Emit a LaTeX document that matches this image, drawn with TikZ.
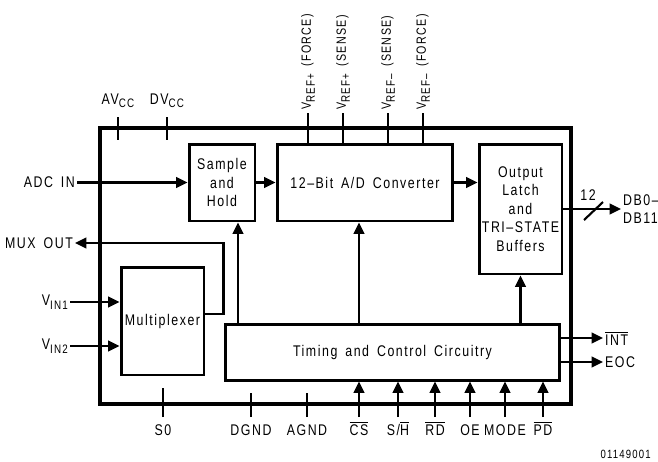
\documentclass[tikz,border=0pt]{standalone}
\usepackage{fontspec}
\setmainfont[FakeStretch=0.8,LetterSpace=10,WordSpace=1.6]{Liberation Sans}
\usepackage{amsmath}
\usetikzlibrary{positioning,calc,arrows.meta}

\newcommand{\lowtext}[1]{\raisebox{-2.2pt}{\fontsize{7}{8}\selectfont #1}}
\newcommand{\barred}[1]{$\overline{\mbox{#1}}$}

\begin{document}
\begin{tikzpicture}[x=0.02cm,y=-0.02cm,>={Triangle[length=6.5pt,width=6pt]},font=\fontsize{8.8}{10.6}\selectfont,
  block node/.style={draw,line width=1.7pt,inner sep=0pt,align=center},
  chip node/.style={draw,line width=2.5pt,inner sep=0pt},
  wire/.style={line width=1.3pt},
  pin/.style={line width=1.2pt},
  side label/.style={inner sep=1pt},
  ref label/.style={rotate=90,anchor=west,inner sep=0pt,font=\fontsize{7.6}{9}\selectfont}]
\useasboundingbox (0,0) rectangle (658,461);
% blocks
  \node[chip node,minimum width=9.42cm,minimum height=5.52cm] (chip) at (335.5,266) {};
  \node[block node,minimum width=1.32cm,minimum height=1.54cm] (sample hold) at (222,182.5) {Sample\\and\\Hold};
  \node[block node,minimum width=3.52cm,minimum height=1.54cm] (converter) at (365,182.5) {12--Bit A/D Converter};
  \node[block node,minimum width=1.66cm,minimum height=2.60cm] (output latch) at (520.5,209) {Output\\Latch\\and\\TRI--STATE\\Buffers};
  \node[block node,minimum width=1.66cm,minimum height=2.16cm] (multiplexer) at (162.5,321) {Multiplexer};
  \node[block node,minimum width=6.70cm,minimum height=1.12cm] (timing) at (392.5,352) {Timing and Control Circuitry};
% top pins
  \coordinate (vcc top) at (0,117);
  \coordinate (vcc bot) at (0,140);
  \coordinate (ref top) at (0,113);
  \node[anchor=base] (avcc) at (118,104) {AV\lowtext{CC}};
  \node[anchor=base] (dvcc) at (167,104) {DV\lowtext{CC}};
  \node[ref label] (vref pf) at (308,110) {V\lowtext{REF+} (FORCE)};
  \node[ref label] (vref ps) at (343,110) {V\lowtext{REF+} (SENSE)};
  \node[ref label] (vref ms) at (388,110) {V\lowtext{REF--} (SENSE)};
  \node[ref label] (vref mf) at (423,110) {V\lowtext{REF--} (FORCE)};
  \foreach \p in {avcc,dvcc}
    \draw[pin] (\p |- vcc top) -- (\p |- vcc bot);
  \foreach \p in {vref pf,vref ps,vref ms,vref mf}
    \draw[pin] (\p |- ref top) -- (\p |- converter.north);
% left side
  \node[side label,anchor=east] (adc in) at (77,182.5) {ADC IN};
  \node[side label,anchor=east] (mux out) at (75,243) {MUX OUT};
  \node[side label,anchor=east] (vin1) at (70,302) {V\lowtext{IN1}};
  \node[side label,anchor=east] (vin2) at (70,346) {V\lowtext{IN2}};
  \draw[wire,->] (adc in) -- (sample hold);
  \draw[wire,->] (vin1) -- (vin1 -| multiplexer.west);
  \draw[wire,->] (vin2) -- (vin2 -| multiplexer.west);
  \draw[wire,->] ([yshift=0.14cm]multiplexer.east) -- ++(18,0) |- (mux out);
% data path
  \draw[wire,->] (sample hold) -- (converter);
  \draw[wire,->] (converter.east) -- (converter.east -| output latch.west);
  \draw[wire,->] ([xshift=0.32cm]sample hold.south |- timing.north) -- ([xshift=0.32cm]sample hold.south);
  \draw[wire,->] ([xshift=-0.12cm]converter.south |- timing.north) -- ([xshift=-0.12cm]converter.south);
  \draw[wire,->] (output latch.south |- timing.north) -- (output latch.south);
% right side
  \node[side label,anchor=west,align=left] (db) at (621,209) {DB0--\\DB11};
  \node[side label,anchor=west] (int) at (603,338) {\barred{INT}};
  \node[side label,anchor=west] (eoc) at (603,362) {EOC};
  \node (bus width) at (588,195) {12};
  \draw[wire,->] (output latch.east) -- (db.west);
  \draw[pin] (584,220) -- (603,202);
  \draw[wire,->] (int -| timing.east) -- (int);
  \draw[wire,->] (eoc -| timing.east) -- (eoc);
% bottom pins
  \coordinate (pin end) at (0,417);
  \coordinate (s0 top) at (0,388);
  \coordinate (gnd top) at (0,393);
  \node[anchor=base] (s0) at (163,435) {S0};
  \node[anchor=base] (dgnd) at (251,435) {DGND};
  \node[anchor=base] (agnd) at (307,435) {AGND};
  \node[anchor=base] (cs) at (359,435) {\barred{CS}};
  \node[anchor=base] (sh) at (398,435) {S/\barred{H}};
  \node[anchor=base] (rd) at (435,435) {\barred{RD}};
  \node[anchor=base] (oe) at (470,435) {OE};
  \node[anchor=base] (mode) at (505,435) {MODE};
  \node[anchor=base] (pd) at (543,435) {\barred{PD}};
  \draw[pin] (s0 |- pin end) -- (s0 |- s0 top);
  \foreach \p in {dgnd,agnd}
    \draw[pin] (\p |- pin end) -- (\p |- gnd top);
  \foreach \p in {cs,sh,rd,oe,mode,pd}
    \draw[wire,->] (\p |- pin end) -- (\p |- timing.south);
  \node[anchor=base east,font=\fontsize{6.8}{8}\selectfont] (fig id) at (657,458) {01149001};
\end{tikzpicture}
\end{document}
